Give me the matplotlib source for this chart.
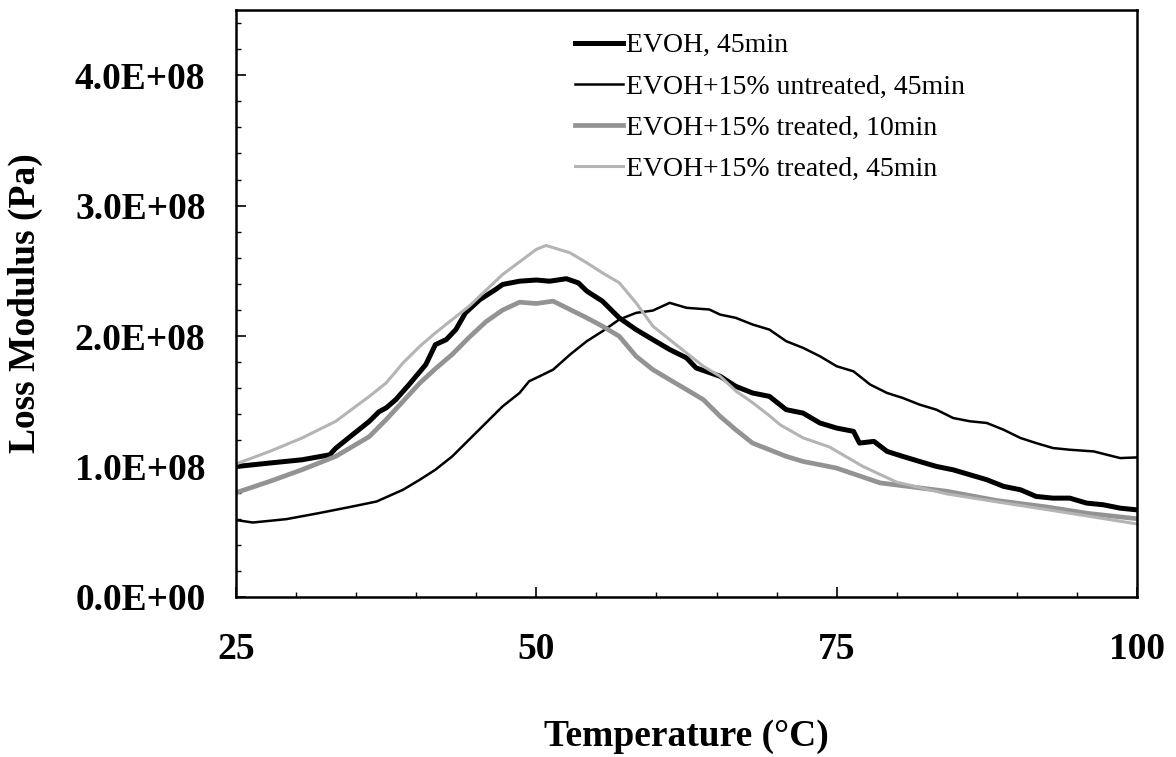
import matplotlib
matplotlib.use("Agg")
import matplotlib.pyplot as plt
from matplotlib.ticker import MultipleLocator, FuncFormatter

plt.rcParams['font.family'] = ['Liberation Serif', 'DejaVu Serif']

# EVOH, 45min (thick black)
evoh_t = [25.0, 27.8, 30.5, 32.8, 33.3, 34.7, 36.1, 36.9, 37.5, 38.3, 39.4, 40.1, 40.8,
          41.6, 42.5, 43.3, 44.1, 45.3, 46.6, 47.2, 48.6, 50.0, 51.1, 52.5, 53.5, 54.2,
          55.5, 56.9, 58.3, 59.7, 61.1, 62.5, 63.3, 65.3, 66.6, 68.0, 69.4, 70.8, 72.2,
          73.6, 75.0, 76.4, 76.9, 78.1, 79.2, 80.5, 81.9, 83.3, 84.7, 86.1, 87.5, 88.9,
          90.3, 91.6, 93.0, 94.4, 95.8, 97.2, 98.6, 100.0]
evoh_g = [1.00, 1.027, 1.052, 1.09, 1.14, 1.244, 1.347, 1.42, 1.45, 1.513, 1.628, 1.705, 1.782,
          1.935, 1.973, 2.05, 2.178, 2.28, 2.357, 2.396, 2.421, 2.43, 2.421, 2.44, 2.408, 2.345,
          2.268, 2.14, 2.05, 1.973, 1.897, 1.833, 1.756, 1.692, 1.615, 1.564, 1.538, 1.436, 1.41,
          1.334, 1.295, 1.27, 1.18, 1.193, 1.116, 1.078, 1.039, 1.001, 0.975, 0.937, 0.899, 0.848,
          0.822, 0.771, 0.758, 0.758, 0.72, 0.707, 0.681, 0.668]

# EVOH+15% untreated, 45min (thin black)
untr_t = [25.0, 26.4, 29.2, 31.9, 34.7, 36.7, 38.9, 40.3, 41.6, 43.0, 44.4, 45.8, 47.2,
          48.6, 49.4, 50.0, 51.4, 52.8, 54.2, 55.5, 56.9, 58.3, 59.7, 61.1, 62.5, 64.4,
          65.3, 66.6, 68.0, 69.4, 70.8, 72.2, 73.6, 75.0, 76.4, 77.8, 79.2, 80.5, 81.9,
          83.3, 84.7, 86.1, 87.5, 88.9, 90.3, 91.6, 93.0, 94.4, 96.4, 98.6, 100.0]
untr_g = [0.59, 0.571, 0.597, 0.643, 0.694, 0.732, 0.822, 0.899, 0.976, 1.078, 1.206, 1.334, 1.462,
          1.564, 1.654, 1.68, 1.743, 1.858, 1.961, 2.037, 2.127, 2.178, 2.196, 2.255, 2.217, 2.204,
          2.165, 2.14, 2.089, 2.05, 1.961, 1.91, 1.846, 1.769, 1.73, 1.628, 1.564, 1.526, 1.475,
          1.436, 1.372, 1.347, 1.334, 1.282, 1.219, 1.18, 1.142, 1.129, 1.116, 1.065, 1.07]

# EVOH+15% treated, 10min (grey, medium)
tr10_t = [25.0, 27.8, 30.5, 33.3, 36.1, 37.5, 38.9, 40.3, 41.6, 43.0, 44.4, 45.8, 47.2,
          48.6, 50.0, 51.4, 52.8, 54.2, 55.5, 56.9, 58.3, 59.7, 61.1, 62.5, 63.9, 65.3,
          66.6, 68.0, 69.4, 70.8, 72.2, 73.6, 75.0, 78.6, 84.2, 88.3, 92.5, 96.0, 100.0]
tr10_g = [0.80, 0.886, 0.976, 1.078, 1.23, 1.36, 1.50, 1.64, 1.75, 1.86, 1.99, 2.11, 2.20,
          2.26, 2.25, 2.268, 2.204, 2.14, 2.076, 1.999, 1.846, 1.743, 1.666, 1.59, 1.513, 1.385,
          1.282, 1.18, 1.129, 1.078, 1.039, 1.014, 0.988, 0.875, 0.81, 0.74, 0.69, 0.64, 0.60]

# EVOH+15% treated, 45min (light grey)
tr45_t = [25.0, 27.8, 30.5, 33.3, 36.1, 37.5, 38.9, 40.3, 41.6, 44.4, 47.2, 50.0, 50.8,
          52.8, 54.2, 55.5, 56.9, 58.3, 59.7, 61.1, 62.5, 63.9, 65.3, 66.6, 68.0, 69.4,
          70.3, 72.2, 74.4, 77.2, 80.0, 84.2, 88.3, 92.5, 96.6, 100.0]
tr45_g = [1.02, 1.116, 1.219, 1.347, 1.538, 1.641, 1.794, 1.922, 2.025, 2.229, 2.473, 2.665, 2.695,
          2.639, 2.562, 2.485, 2.409, 2.255, 2.076, 1.973, 1.871, 1.769, 1.692, 1.58, 1.49, 1.39,
          1.32, 1.22, 1.15, 1.0, 0.88, 0.79, 0.73, 0.67, 0.61, 0.56]

labels = ["EVOH, 45min", "EVOH+15% untreated, 45min",
          "EVOH+15% treated, 10min", "EVOH+15% treated, 45min"]

fig = plt.figure(figsize=(11.76, 7.57), dpi=100)
ax = fig.add_axes([236 / 1176, 160 / 757, 901 / 1176, 587 / 757])

ax.plot(evoh_t, [v * 1e8 for v in evoh_g], color='black', lw=3.6, label=labels[0])
ax.plot(untr_t, [v * 1e8 for v in untr_g], color='black', lw=1.8, label=labels[1])
ax.plot(tr10_t, [v * 1e8 for v in tr10_g], color='#939393', lw=3.4, label=labels[2])
ax.plot(tr45_t, [v * 1e8 for v in tr45_g], color='#b4b4b4', lw=2.2, label=labels[3])

ax.set_xlim(25, 100)
ax.set_ylim(0, 4.5e8)
ax.xaxis.set_major_locator(MultipleLocator(25))
ax.xaxis.set_minor_locator(MultipleLocator(5))
ax.yaxis.set_major_locator(MultipleLocator(1e8))
ax.yaxis.set_minor_locator(MultipleLocator(0.2e8))
ax.yaxis.set_major_formatter(FuncFormatter(lambda v, p: '{:.1E}'.format(v)))

ax.tick_params(which='both', direction='in', top=False, right=False)
ax.tick_params(which='major', length=7, width=1.2)
ax.tick_params(which='minor', length=3.5, width=1.0)
ax.tick_params(axis='y', which='major', pad=22, labelsize=27)
ax.tick_params(axis='x', which='major', pad=25, labelsize=27)
for lab in ax.get_xticklabels() + ax.get_yticklabels():
    lab.set_fontweight('bold')
for s in ax.spines.values():
    s.set_linewidth(1.8)

ax.set_xlabel("Temperature (°C)", fontsize=27, fontweight='bold')
ax.xaxis.set_label_coords(0.5, -0.208)
ax.set_ylabel("Loss Modulus (Pa)", fontsize=27, fontweight='bold')
ax.yaxis.set_label_coords(-0.214, 0.5)

ax.legend(loc='upper left', bbox_to_anchor=(0.376, 0.961), frameon=False,
          fontsize=20, handlelength=1.73, handletextpad=0.1, labelspacing=0.57,
          borderpad=0, borderaxespad=0)

fig.savefig("out.png", dpi=100)
